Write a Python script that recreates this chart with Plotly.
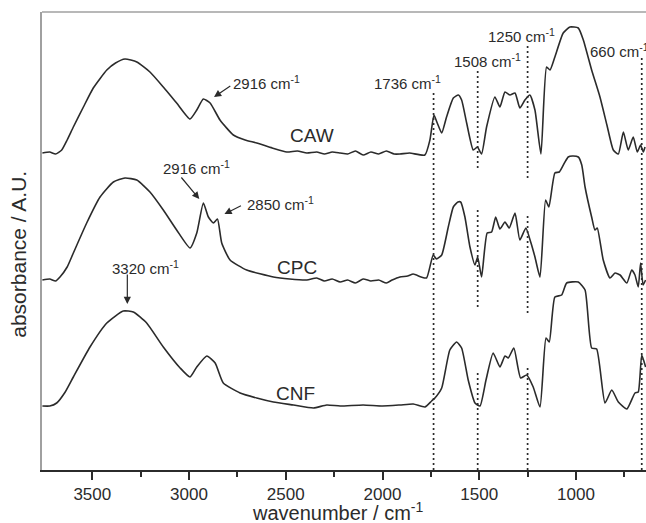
import plotly.graph_objects as go

# ---- data (wavenumber in cm^-1, absorbance in offset arbitrary units) ----
wn_caw = [3758, 3720, 3690, 3658, 3630, 3598, 3546, 3495, 3425, 3380, 3331, 3270, 3202, 3133, 3064,
          2995, 2960, 2926, 2891, 2840, 2771, 2710, 2650, 2570, 2495, 2440, 2391, 2340, 2300, 2260,
          2219, 2180, 2140, 2100, 2060, 2020, 1980, 1940, 1910, 1860, 1781, 1755, 1734, 1717, 1694,
          1669, 1634, 1608, 1591, 1565, 1531, 1510, 1488, 1462, 1419, 1393, 1367, 1341, 1315, 1290,
          1264, 1238, 1212, 1181, 1152, 1134, 1109, 1066, 1031, 988, 962, 919, 876, 840, 807,
          781, 755, 730, 704, 683, 666, 652, 643]
abs_caw = [317, 318, 316, 320, 330, 343, 363, 382, 400, 407, 411, 408, 398, 383, 367,
           351, 360, 371, 367, 350, 335, 330, 327, 322, 318, 319, 317, 318, 316, 318,
           317, 316, 319, 315, 318, 316, 319, 316, 316, 317, 315, 330, 355, 347, 337,
           353, 372, 375, 370, 347, 320, 323, 316, 343, 373, 363, 378, 375, 377, 362,
           370, 375, 360, 316, 403, 400, 413, 437, 443, 442, 430, 400, 373, 345, 320,
           316, 338, 320, 333, 318, 325, 318, 323]

wn_cpc = [3758, 3720, 3690, 3667, 3630, 3598, 3529, 3460, 3391, 3331, 3270, 3202, 3133, 3064, 2995,
          2960, 2926, 2900, 2874, 2853, 2831, 2788, 2702, 2564, 2480, 2391, 2340, 2300, 2260, 2219,
          2180, 2140, 2100, 2060, 2020, 1980, 1950, 1910, 1870, 1841, 1800, 1772, 1738, 1721, 1694,
          1660, 1634, 1610, 1596, 1574, 1548, 1522, 1508, 1488, 1459, 1436, 1415, 1393, 1367, 1345,
          1315, 1290, 1259, 1234, 1212, 1186, 1157, 1140, 1109, 1086, 1057, 1040, 1019, 988, 970,
          953, 919, 902, 890, 859, 824, 798, 772, 737, 712, 695, 678, 666, 653, 640]
abs_cpc = [190, 191, 189, 193, 203, 217, 247, 273, 288, 292, 290, 278, 260, 240, 222,
           237, 267, 253, 247, 251, 227, 210, 200, 193, 191, 190, 192, 189, 191, 188,
           190, 187, 191, 189, 190, 187, 190, 193, 194, 196, 193, 192, 215, 211, 215,
           243, 263, 268, 268, 253, 223, 205, 213, 193, 237, 238, 253, 241, 248, 242,
           257, 230, 242, 228, 213, 193, 270, 263, 297, 298, 308, 313, 314, 313, 305,
           283, 253, 240, 242, 210, 192, 197, 195, 187, 200, 195, 183, 207, 185, 190]

wn_cnf = [3758, 3720, 3684, 3640, 3598, 3512, 3425, 3340, 3288, 3219, 3133, 3046, 2995, 2960, 2908,
          2865, 2823, 2736, 2650, 2564, 2460, 2357, 2288, 2219, 2100, 2000, 1910, 1841, 1781, 1746,
          1729, 1694, 1652, 1617, 1591, 1557, 1522, 1496, 1465, 1428, 1393, 1367, 1350, 1321, 1286,
          1255, 1221, 1186, 1155, 1138, 1109, 1074, 1048, 988, 953, 919, 893, 850, 815, 781,
          737, 695, 678, 660, 640]
abs_cnf = [64, 64, 67, 78, 93, 123, 147, 159, 158, 147, 123, 102, 93, 103, 114,
           107, 87, 77, 72, 68, 65, 62, 65, 64, 65, 64, 65, 66, 63, 69,
           72, 82, 120, 128, 122, 90, 67, 64, 90, 117, 103, 114, 112, 122, 92,
           95, 83, 63, 132, 128, 173, 175, 187, 188, 180, 122, 121, 67, 80, 68,
           61, 77, 78, 115, 103]

# sample names and label anchor points
names = ["CAW", "CPC", "CNF"]
name_x = [2364, 2442, 2452]
name_y = [335, 203, 77]

# marked bands: dotted guide segments (wavenumber, [y_start, y_end] pairs)
band_wn = [1736, 1508, 1250, 660]
band_segments = [
    [[0, 377]],
    [[302, 400], [163, 262], [0, 100]],
    [[292, 427], [157, 257], [0, 103]],
    [[0, 412]],
]
band_label_x = [1869, 1455, 1284, 938]
band_label_y = [388, 410, 435, 420]
band_label_anchor = ["center", "center", "center", "left"]

# peak annotations: text, text position, arrow tail, arrow tip
peak_text = ["2916", "2916", "2850", "3320"]
peak_text_x = [2783, 2964, 2710, 3227]
peak_text_y = [388, 303, 267, 203]
peak_text_anchor = ["left", "center", "left", "center"]
arrow_tail = [(2779, 385), (3046, 294), (2724, 265), (3319, 197)]
arrow_tip = [(2871, 373), (2947, 271), (2817, 256), (3319, 166)]

x_ticks = [3500, 3000, 2500, 2000, 1500, 1000]
x_minor = [3250, 2750, 2250, 1750, 1250, 750]

FONT = "Liberation Sans, Arial, sans-serif"
INK = "#2b2b2b"

fig = go.Figure()
for wn, ab in [(wn_caw, abs_caw), (wn_cpc, abs_cpc), (wn_cnf, abs_cnf)]:
    fig.add_trace(go.Scatter(x=wn, y=ab, mode="lines",
                             line=dict(color=INK, width=1.6, shape="spline", smoothing=0.5),
                             showlegend=False, hoverinfo="skip"))

shapes = []
for wn, segs in zip(band_wn, band_segments):
    for y0, y1 in segs:
        shapes.append(dict(type="line", xref="x", yref="y", x0=wn, x1=wn, y0=y0, y1=y1,
                           line=dict(color=INK, width=1.7, dash="2px,3px")))
# top frame line
shapes.append(dict(type="line", xref="paper", yref="paper", x0=0, x1=1, y0=1, y1=1,
                   line=dict(color="#a0a0a0", width=1.5)))

annotations = []
for n, x, y in zip(names, name_x, name_y):
    annotations.append(dict(x=x, y=y, xref="x", yref="y", text=n, showarrow=False,
                            font=dict(family=FONT, size=19, color=INK)))
for wn, x, y, anc in zip(band_wn, band_label_x, band_label_y, band_label_anchor):
    annotations.append(dict(x=x, y=y, xref="x", yref="y", text=f"{wn} cm<sup>-1</sup>",
                            showarrow=False, xanchor=anc,
                            font=dict(family=FONT, size=15, color=INK)))
for t, x, y, anc in zip(peak_text, peak_text_x, peak_text_y, peak_text_anchor):
    annotations.append(dict(x=x, y=y, xref="x", yref="y", text=f"{t} cm<sup>-1</sup>",
                            showarrow=False, xanchor=anc,
                            font=dict(family=FONT, size=15, color=INK)))
for (tx, ty), (hx, hy) in zip(arrow_tail, arrow_tip):
    annotations.append(dict(x=hx, y=hy, ax=tx, ay=ty, xref="x", yref="y", axref="x", ayref="y",
                            text="", showarrow=True, arrowhead=2, arrowsize=1.2, arrowwidth=1.2,
                            arrowcolor=INK, standoff=0, startstandoff=0))
# axis titles
annotations.append(dict(xref="paper", yref="paper", x=0.5, y=0, yshift=-41, xshift=-6,
                        text="wavenumber / cm<sup>-1</sup>", showarrow=False,
                        yanchor="middle", font=dict(family=FONT, size=20, color=INK)))
annotations.append(dict(xref="paper", yref="paper", x=0, y=0.47, xshift=-23,
                        text="absorbance / A.U.", showarrow=False, textangle=-90,
                        xanchor="center", yanchor="middle",
                        font=dict(family=FONT, size=21, color=INK)))

fig.update_layout(
    width=646, height=523,
    margin=dict(l=42, r=0, t=12, b=53),
    paper_bgcolor="white", plot_bgcolor="white",
    shapes=shapes, annotations=annotations,
    font=dict(family=FONT, color=INK),
)
fig.update_xaxes(range=[3760, 638], showgrid=False, zeroline=False,
                 tickvals=x_ticks, ticktext=[str(v) for v in x_ticks],
                 ticks="outside", ticklen=8, tickwidth=1.5, tickcolor=INK,
                 showline=True, linecolor=INK, linewidth=1.5,
                 tickfont=dict(family=FONT, size=17, color=INK),
                 minor=dict(tickvals=x_minor, ticks="outside", ticklen=5, tickwidth=1.5, tickcolor=INK))
fig.update_yaxes(range=[0, 458], showgrid=False, zeroline=False, showticklabels=False,
                 ticks="", showline=True, linecolor="#a0a0a0", linewidth=1.5)

fig.write_html("out.html")
